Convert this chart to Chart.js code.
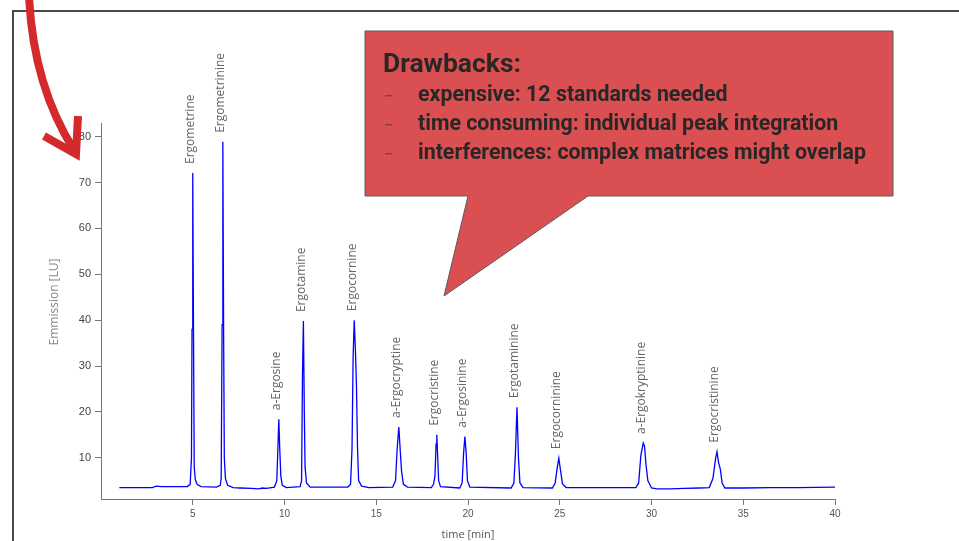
<!DOCTYPE html>
<html>
<head>
<meta charset="utf-8">
<script src="https://cdn.jsdelivr.net/npm/chart.js@4"></script>
<style>
  html, body { margin: 0; padding: 0; background: #fff; }
  canvas { display: block; }
</style>
</head>
<body>
<canvas id="chart" width="959" height="541"></canvas>
<script>
// chromatogram trace
const timeMin = [
  1.0, 2.8, 3.0, 3.3, 4.7,
  4.86, 4.93, 4.96, 5.0, 5.04, 5.08, 5.14, 5.24, 5.45,
  6.3, 6.5, 6.55, 6.6, 6.64, 6.68, 6.72, 6.78, 6.9, 7.2,
  7.6, 8.2, 8.6, 8.8, 9.0, 9.3,
  9.45, 9.58, 9.64, 9.69, 9.74, 9.8, 9.88, 10.1,
  10.85, 10.93, 10.98, 11.03, 11.08, 11.12, 11.2, 11.4,
  13.45, 13.6, 13.68, 13.74, 13.8, 13.86, 13.92, 13.98, 14.04, 14.2, 14.6,
  15.9, 16.05, 16.14, 16.23, 16.3, 16.38, 16.48, 16.7,
  18.0, 18.12, 18.2, 18.26, 18.3, 18.35, 18.4, 18.5,
  19.55, 19.68, 19.76, 19.83, 19.9, 19.97, 20.1,
  22.35, 22.5, 22.58, 22.67, 22.75, 22.83, 23.0,
  24.6, 24.75, 24.87, 24.95, 25.05, 25.15, 25.35,
  27.0, 28.5,
  29.15, 29.3, 29.42, 29.55, 29.62, 29.7, 29.8, 30.0,
  30.3, 31.0, 31.8, 32.6,
  33.15, 33.35, 33.5, 33.57, 33.65, 33.75, 33.85, 34.0,
  35.0, 36.5, 38.0, 40.0
];
const emission = [
  3.5, 3.5, 3.8, 3.7, 3.7,
  4.2, 10, 38, 72.1, 38, 8, 5.2, 4.2, 3.7,
  3.6, 4.0, 5.5, 39, 78.9, 39, 10, 5.5, 4.0, 3.5,
  3.4, 3.3, 3.2, 3.4, 3.3, 3.5,
  3.6, 5, 12, 18.4, 12, 6, 4, 3.5,
  3.7, 5, 28, 39.8, 20, 8, 4.5, 3.6,
  3.6, 4.2, 12, 32, 40.0, 34, 26, 12, 5, 3.8, 3.5,
  3.6, 5, 12, 16.7, 12, 7, 4.2, 3.6,
  3.5, 4.2, 6, 13, 15.0, 10, 5, 3.7,
  3.4, 4.5, 11, 14.6, 11, 5, 3.6,
  3.4, 4.5, 10.5, 21, 10, 4.5, 3.5,
  3.4, 4.5, 8, 9.9, 7, 4.3, 3.5,
  3.5, 3.5,
  3.5, 4.5, 10.5, 13.2, 12.5, 8.5, 5, 3.4,
  3.2, 3.2, 3.3, 3.4,
  3.5, 5.5, 10, 11.3, 9, 7.5, 4.5, 3.4,
  3.4, 3.5, 3.5, 3.6
];

const peakNames = [
  "Ergometrine", "Ergometrinine", "a-Ergosine", "Ergotamine", "Ergocornine",
  "a-Ergocryptine", "Ergocristine", "a-Ergosinine", "Ergotaminine",
  "Ergocorninine", "a-Ergokryptinine", "Ergocristinine"
];
const peakTimes = [5.0, 6.64, 9.69, 11.03, 13.8, 16.23, 18.3, 19.83, 22.67, 24.95, 29.55, 33.57];
const peakHeights = [72.1, 78.9, 18.4, 39.8, 40.0, 16.7, 15.0, 14.6, 21, 9.9, 13.2, 11.3];

const xTickValues = [5, 10, 15, 20, 25, 30, 35, 40];
const yTickValues = [10, 20, 30, 40, 50, 60, 70, 80];
const xTitle = "time [min]";
const yTitle = "Emmission [LU]";

const drawbacksTitle = "Drawbacks:";
const drawbacks = [
  "expensive: 12 standards needed",
  "time consuming: individual peak integration",
  "interferences: complex matrices might overlap"
];


const fitFontSize = (ctx, text, weight, family, width) => {
  ctx.font = `${weight} 20px ${family}`;
  return 20 * width / ctx.measureText(text).width;
};

const slidePlugin = {
  id: 'slide',
  afterDraw(chart) {
    const ctx = chart.ctx;
    const xs = chart.scales.x;
    const ys = chart.scales.y;
    ctx.save();

    // slide frame
    ctx.strokeStyle = '#4a4a4a';
    ctx.lineWidth = 2;
    ctx.beginPath();
    ctx.moveTo(13, 541);
    ctx.lineTo(13, 11);
    ctx.lineTo(959, 11);
    ctx.stroke();

    // peak names
    ctx.fillStyle = '#666';
    ctx.font = '12px "Open Sans"';
    ctx.textAlign = 'left';
    ctx.textBaseline = 'middle';
    peakNames.forEach((name, i) => {
      const px = xs.getPixelForValue(peakTimes[i]);
      const py = ys.getPixelForValue(peakHeights[i]);
      ctx.save();
      ctx.translate(px - 2, py - 9);
      ctx.rotate(-Math.PI / 2);
      ctx.fillText(name, 0, 0);
      ctx.restore();
    });

    // axis titles
    ctx.fillStyle = '#888';
    ctx.font = '12px "Open Sans"';
    ctx.textAlign = 'center';
    ctx.save();
    ctx.translate(55, 302);
    ctx.rotate(-Math.PI / 2);
    ctx.fillText(yTitle, 0, 0);
    ctx.restore();
    ctx.fillStyle = '#555';
    ctx.font = '11px "Open Sans"';
    ctx.fillText(xTitle, (xs.left + xs.right) / 2, 535);

    // callout
    ctx.beginPath();
    ctx.moveTo(365, 31);
    ctx.lineTo(893, 31);
    ctx.lineTo(893, 196);
    ctx.lineTo(588, 196);
    ctx.lineTo(444, 296);
    ctx.lineTo(468, 196);
    ctx.lineTo(365, 196);
    ctx.closePath();
    ctx.fillStyle = 'rgb(218, 80, 82)';
    ctx.fill();
    ctx.strokeStyle = '#5a5a5a';
    ctx.lineWidth = 1;
    ctx.stroke();

    ctx.textAlign = 'left';
    ctx.textBaseline = 'alphabetic';
    ctx.fillStyle = '#2a2626';
    const titleSize = fitFontSize(ctx, drawbacksTitle, 'bold', 'Roboto', 138);
    ctx.font = `bold ${titleSize}px Roboto`;
    ctx.fillText(drawbacksTitle, 383, 72);

    const itemSize = fitFontSize(ctx, drawbacks[2], 'bold', 'Roboto', 448);
    drawbacks.forEach((line, i) => {
      const y = 101 + i * 29;
      ctx.fillStyle = 'rgba(70, 50, 50, 0.55)';
      ctx.fillRect(385, y - 6, 7, 1.5);
      ctx.fillStyle = '#2a2626';
      ctx.font = `bold ${itemSize}px Roboto`;
      ctx.fillText(line, 418, y);
    });

    // red arrow
    ctx.strokeStyle = '#d42a2c';
    ctx.lineWidth = 8;
    ctx.lineCap = 'butt';
    ctx.lineJoin = 'miter';
    ctx.beginPath();
    ctx.moveTo(29, -4);
    ctx.bezierCurveTo(32, 60, 50, 112, 74, 150);
    ctx.stroke();
    ctx.beginPath();
    ctx.moveTo(44, 136);
    ctx.lineTo(76, 154);
    ctx.lineTo(78, 116);
    ctx.stroke();

    ctx.restore();
  }
};

new Chart(document.getElementById('chart'), {
  type: 'line',
  data: {
    datasets: [{
      data: timeMin.map((t, i) => ({x: t, y: emission[i]})),
      borderColor: '#0000ff',
      borderWidth: 1.3,
      pointRadius: 0,
      tension: 0,
      fill: false
    }]
  },
  options: {
    responsive: false,
    animation: false,
    layout: { padding: { top: 123, right: 124, left: 0, bottom: 0 } },
    plugins: { legend: { display: false }, tooltip: { enabled: false } },
    scales: {
      x: {
        type: 'linear',
        min: 0,
        max: 40,
        afterBuildTicks: s => { s.ticks = xTickValues.map(v => ({value: v})); },
        afterFit: s => { s.height = 42; },
        grid: { drawOnChartArea: false, tickLength: 6, color: '#777' },
        border: { color: '#777', width: 1 },
        ticks: { color: '#555', font: { family: 'Liberation Sans', size: 10 }, padding: 3, maxRotation: 0 }
      },
      y: {
        type: 'linear',
        min: 1,
        max: 83,
        afterBuildTicks: s => { s.ticks = yTickValues.map(v => ({value: v})); },
        afterFit: s => { s.width = 101; },
        grid: { drawOnChartArea: false, tickLength: 6, color: '#777' },
        border: { color: '#777', width: 1 },
        ticks: { color: '#444', font: { family: 'Liberation Sans', size: 11 }, padding: 4 }
      }
    }
  },
  plugins: [slidePlugin]
});
</script>
</body>
</html>
